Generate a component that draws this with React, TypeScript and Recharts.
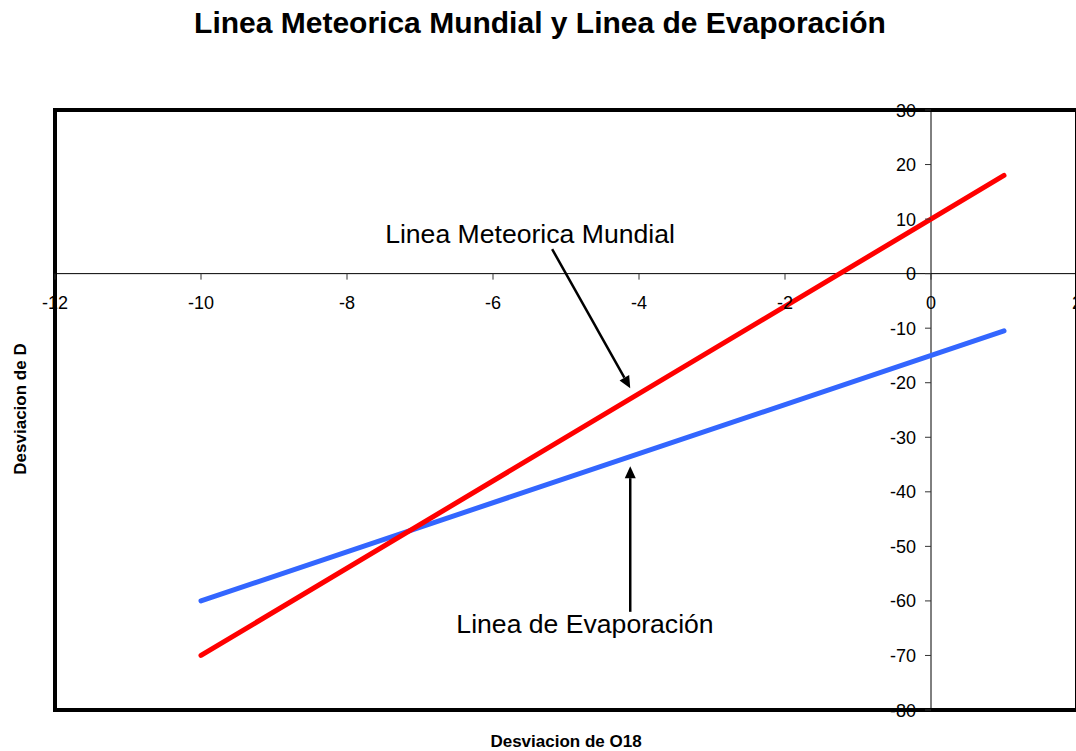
import React from 'react';
import { LineChart, Line, XAxis, YAxis, ReferenceLine, ReferenceArea } from 'recharts';

// delta O18 (x) and the two fitted lines (delta D)
const dO18 = [-10, 1];
const meteoric = [-70, 18];
const evaporation = [-60, -10.5];

const xTicks = [-12, -10, -8, -6, -4, -2, 0, 2];
const yTicks = [30, 20, 10, 0, -10, -20, -30, -40, -50, -60, -70, -80];

const xDomain: [number, number] = [-12, 2];
const yDomain: [number, number] = [-80, 30];

const data = dO18.map((x, i) => ({ x, lmm: meteoric[i], evap: evaporation[i] }));

// annotation arrows, in data units
const arrowLmm = [{ x: -5.19, y: 4.5 }, { x: -4.12, y: -21 }];
const arrowEvap = [{ x: -4.12, y: -62 }, { x: -4.12, y: -35.3 }];

const W = 1080;
const H = 751;
const axisSize = 1;
const margin = { top: 110, right: 3, bottom: 41 - axisSize, left: 55 - axisSize };
const plotLeft = margin.left + axisSize;
const plotW = W - plotLeft - margin.right;
const plotH = H - margin.top - margin.bottom - axisSize;
// where the axes cross (x = 0, y = 0)
const zeroY = margin.top + (plotH * (yDomain[1] - 0)) / (yDomain[1] - yDomain[0]);
const zeroX = plotLeft + (plotW * (0 - xDomain[0])) / (xDomain[1] - xDomain[0]);

const font = '"Liberation Sans", Arial, sans-serif';

const XTick = (props: any) => {
  const { x, payload } = props;
  return (
    <g>
      <line x1={x} x2={x} y1={zeroY} y2={zeroY + 6} stroke="#333" />
      <text x={x} y={zeroY + 35} textAnchor="middle" fontSize={18} fill="#000" fontFamily={font}>
        {payload.value}
      </text>
    </g>
  );
};

const YTick = (props: any) => {
  const { y, payload } = props;
  return (
    <g>
      <line x1={zeroX - 6} x2={zeroX} y1={y} y2={y} stroke="#333" />
      <text x={zeroX - 15} y={y + 6.5} textAnchor="end" fontSize={18} fill="#000" fontFamily={font}>
        {payload.value}
      </text>
    </g>
  );
};

const Arrow = ({ x1, y1, x2, y2 }: any) => {
  const ang = Math.atan2(y2 - y1, x2 - x1);
  const len = 12;
  const hw = 5.5;
  const bx = x2 - len * Math.cos(ang);
  const by = y2 - len * Math.sin(ang);
  const px = -Math.sin(ang) * hw;
  const py = Math.cos(ang) * hw;
  return (
    <g>
      <line x1={x1} y1={y1} x2={bx} y2={by} stroke="#000" strokeWidth={2.5} />
      <polygon points={`${x2},${y2} ${bx + px},${by + py} ${bx - px},${by - py}`} fill="#000" />
    </g>
  );
};

export default function App() {
  return (
    <div
      style={{
        position: 'absolute',
        left: 0,
        top: 0,
        width: 1076,
        height: 751,
        overflow: 'hidden',
        background: '#fff',
        fontFamily: font,
      }}
    >
      <LineChart width={W} height={H} data={data} margin={margin}>
        <XAxis
          dataKey="x"
          type="number"
          domain={xDomain}
          ticks={xTicks}
          interval={0}
          height={axisSize}
          axisLine={false}
          tickLine={false}
          tick={XTick}
          allowDataOverflow
        />
        <YAxis
          type="number"
          domain={yDomain}
          ticks={yTicks}
          interval={0}
          width={axisSize}
          axisLine={false}
          tickLine={false}
          tick={YTick}
          allowDataOverflow
        />
        <ReferenceLine y={0} stroke="#000" strokeWidth={1} />
        <ReferenceLine x={0} stroke="#000" strokeWidth={1} />
        <Line
          dataKey="evap"
          stroke="#3366FF"
          strokeWidth={5}
          strokeLinecap="round"
          dot={false}
          isAnimationActive={false}
        />
        <Line
          dataKey="lmm"
          stroke="#FF0000"
          strokeWidth={5}
          strokeLinecap="round"
          dot={false}
          isAnimationActive={false}
        />
        <ReferenceLine segment={arrowLmm} shape={<Arrow />} />
        <ReferenceLine segment={arrowEvap} shape={<Arrow />} />
        <ReferenceArea
          x1={xDomain[0]}
          x2={xDomain[1]}
          y1={yDomain[0]}
          y2={yDomain[1]}
          fill="none"
          fillOpacity={0}
          stroke="#000"
          strokeWidth={4}
        />
      </LineChart>
      <svg
        width={1076}
        height={751}
        style={{ position: 'absolute', left: 0, top: 0, pointerEvents: 'none' }}
        fontFamily={font}
      >
        <text x={540} y={33} textAnchor="middle" fontSize={30} fontWeight="bold">
          Linea Meteorica Mundial y Linea de Evaporación
        </text>
        <text x={530} y={243} textAnchor="middle" fontSize={26.6}>
          Linea Meteorica Mundial
        </text>
        <text x={585} y={633} textAnchor="middle" fontSize={26.6}>
          Linea de Evaporación
        </text>
        <text x={566} y={747} textAnchor="middle" fontSize={17} fontWeight="bold">
          Desviacion de O18
        </text>
        <text
          x={26}
          y={409}
          textAnchor="middle"
          fontSize={17}
          fontWeight="bold"
          transform="rotate(-90 26 409)"
        >
          Desviacion de D
        </text>
      </svg>
    </div>
  );
}
